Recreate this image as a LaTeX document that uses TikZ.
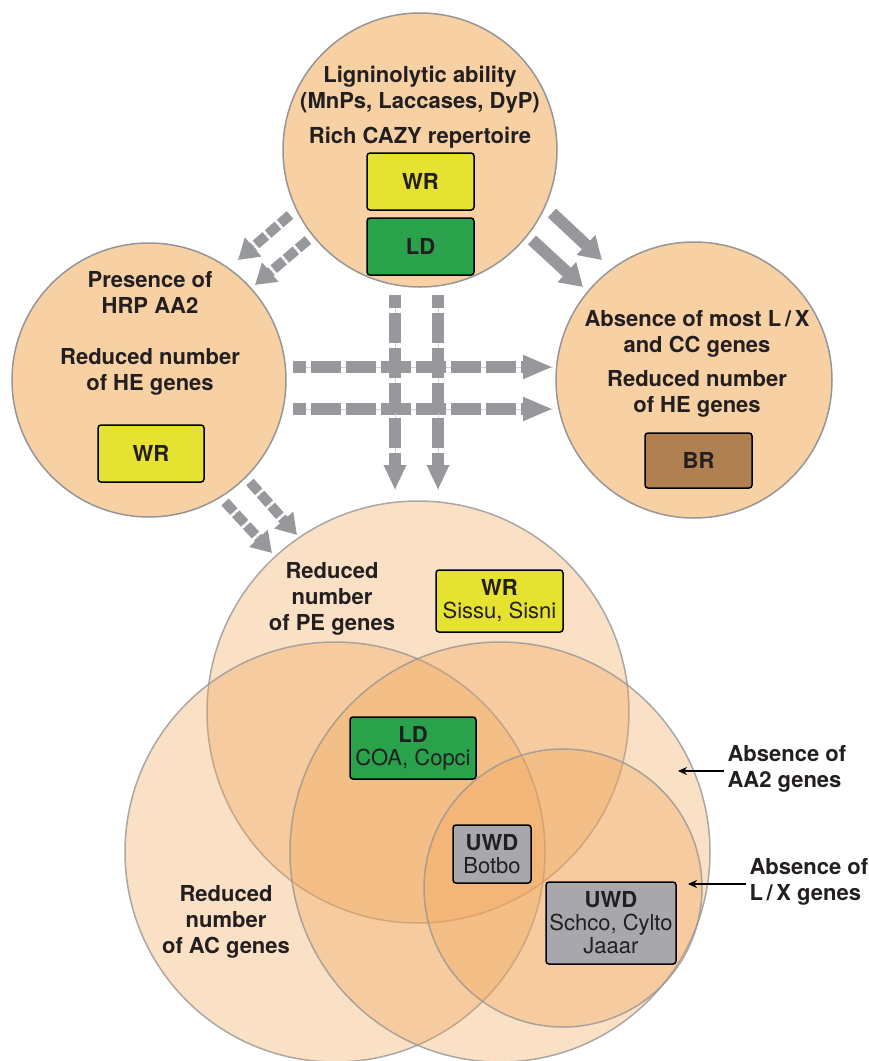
\documentclass[tikz,border=0pt]{standalone}
\usepackage{fontspec}
\setmainfont{TeX Gyre Heros}
\usetikzlibrary{arrows.meta}
\definecolor{peach}{RGB}{247,208,163}
\definecolor{venn}{RGB}{240,165,90}
\definecolor{ringgray}{RGB}{150,150,150}
\definecolor{arrowgray}{RGB}{150,152,156}
\definecolor{wryellow}{RGB}{230,226,50}
\definecolor{ldgreen}{RGB}{42,162,76}
\definecolor{brbrown}{RGB}{176,128,82}
\definecolor{uwdgray}{RGB}{168,168,172}
\definecolor{ink}{RGB}{35,31,32}

\tikzset{
  trait/.style={circle, draw=ringgray, line width=1.5pt, fill=peach, inner sep=0pt},
  vennset/.style={circle, draw=ringgray, draw opacity=0.8, line width=1.5pt,
    fill=venn, fill opacity=0.35, inner sep=0pt},
  lifestyle/.style={draw=black, line width=1.5pt, rounded corners=3pt, align=center,
    inner sep=0pt, text=ink},
  note/.style={align=center, text=ink},
  hairline/.style={preaction={draw=arrowgray!45, line width=0.6pt, solid, -}},
  longdash/.style={hairline, draw=arrowgray, line width=12pt, dash pattern=on 30pt off 5pt,
    dash phase=17pt, -{Triangle[length=30pt,width=22pt]}},
  shortdash/.style={hairline, draw=arrowgray, line width=10pt, dash pattern=on 13pt off 3pt,
    -{Triangle[length=20pt,width=24pt]}},
  fullarrow/.style={draw=arrowgray, line width=12pt, -{Triangle[length=22pt,width=26pt]}},
  pointer/.style={draw=black, line width=1.5pt, -{Stealth[length=9pt,width=8pt]}}
}

\begin{document}
\begin{tikzpicture}[x=1pt,y=-1pt,font=\fontsize{22}{26}\selectfont\bfseries]
\useasboundingbox (0,0) rectangle (869,1061);
% three trait circles
\node[trait, minimum size=274pt] (lig) at (420,150) {};
\node[trait, minimum size=274pt] (hrp) at (149,380) {};
\node[trait, minimum size=276pt] (brc) at (694,380) {};

% overlapping gene sets
\node[vennset, minimum size=422pt] (pe) at (418,712) {};
\node[vennset, minimum size=420pt] (ac) at (335,852) {};
\node[vennset, minimum size=420pt] (aa) at (500,852) {};
\node[vennset, minimum size=278pt] (lx) at (563,888) {};

% arrow ends
\coordinate (tl1a) at (290,215); \coordinate (tl1b) at (238,260);
\coordinate (tl2a) at (308,240); \coordinate (tl2b) at (255,285);
\coordinate (tr1a) at (552,213); \coordinate (tr1b) at (602,260);
\coordinate (tr2a) at (532,240); \coordinate (tr2b) at (583,287);
\coordinate (v1a) at (395,295); \coordinate (v1b) at (395,490);
\coordinate (v2a) at (438,295); \coordinate (v2b) at (438,490);
\coordinate (h1a) at (293,367); \coordinate (h1b) at (553,367);
\coordinate (h2a) at (293,409); \coordinate (h2b) at (553,409);
\coordinate (bl1a) at (225,502); \coordinate (bl1b) at (272,553);
\coordinate (bl2a) at (250,482); \coordinate (bl2b) at (297,535);

\draw[shortdash] (tl1a) -- (tl1b);
\draw[shortdash] (tl2a) -- (tl2b);
\draw[fullarrow] (tr1a) -- (tr1b);
\draw[fullarrow] (tr2a) -- (tr2b);
\draw[longdash] (h1a) -- (h1b);
\draw[longdash] (h2a) -- (h2b);
\draw[longdash, -{Triangle[length=25pt,width=21pt]}] (v1a) -- (v1b);
\draw[longdash, -{Triangle[length=25pt,width=21pt]}] (v2a) -- (v2b);
\draw[shortdash] (bl1a) -- (bl1b);
\draw[shortdash] (bl2a) -- (bl2b);

% texts in the trait circles
\node[note] (ligtxt) at (420,90) {Ligninolytic ability\\(MnPs, Laccases, DyP)};
\node[note] (cazy) at (420,138) {Rich CAZY repertoire};
\node[lifestyle, fill=wryellow, minimum width=107pt, minimum height=57pt] (wrtop) at (420.5,181.5) {WR};
\node[lifestyle, fill=ldgreen, minimum width=107pt, minimum height=57pt] (ldtop) at (420.5,246.5) {LD};

\node[note] (hrptxt) at (150,292) {Presence of\\HRP AA2};
\node[note] (hetxt) at (150,372) {Reduced number\\of HE genes};
\node[lifestyle, fill=wryellow, minimum width=106pt, minimum height=57pt] (wrleft) at (151,453.5) {WR};

\node[note] (lxcc) at (697,334) {Absence of most L\,/\,X\\and CC genes};
\node[note] (hebr) at (697,394) {Reduced number\\of HE genes};
\node[lifestyle, fill=brbrown, minimum width=107pt, minimum height=55pt] (brbox) at (698.5,460.5) {BR};

% texts in the gene sets
\node[note] (petxt) at (332,599) {Reduced\\number\\of PE genes};
\node[note] (actxt) at (226,922) {Reduced\\number\\of AC genes};
\node[lifestyle, fill=wryellow, minimum width=127pt, minimum height=62pt] (wrven) at (499.5,601)
  {WR\\[-3pt]\mdseries Sissu, Sisni};
\node[lifestyle, fill=ldgreen, minimum width=126pt, minimum height=62pt] (ldven) at (413,748)
  {LD\\[-3pt]\mdseries COA, Copci};
\node[lifestyle, fill=uwdgray, minimum width=78pt, minimum height=58pt] (uwdmid) at (492,854)
  {UWD\\[-3pt]\mdseries Botbo};
\node[lifestyle, fill=uwdgray, minimum width=130pt, minimum height=82pt] (uwdlow) at (611,923)
  {UWD\\[-3pt]\mdseries Schco, Cylto\\[-3pt]\mdseries Jaaar};

% side labels
\node[note, align=left, anchor=west] (aa2txt) at (724,768.5) {Absence of\\AA2 genes};
\node[note, align=left, anchor=west] (lxtxt) at (746,881.5) {Absence of\\L\,/\,X genes};
\coordinate (aa2tip) at (678,771);
\coordinate (lxtip) at (688,884);
\draw[pointer] (aa2txt.west |- aa2tip) -- (aa2tip);
\draw[pointer] (lxtxt.west |- lxtip) -- (lxtip);
\end{tikzpicture}
\end{document}
